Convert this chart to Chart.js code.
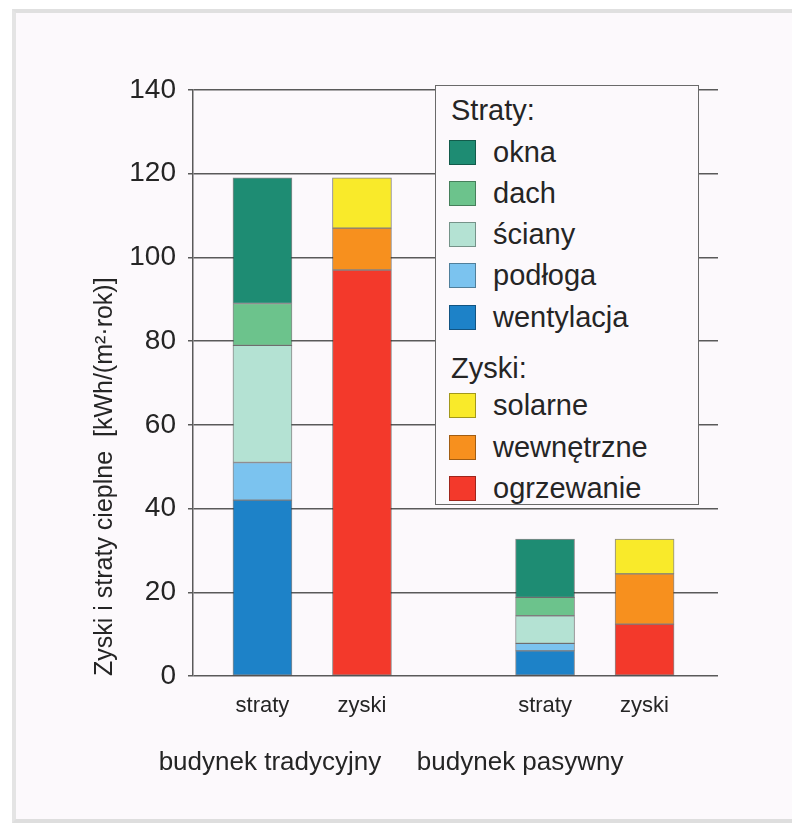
<!DOCTYPE html>
<html><head><meta charset="utf-8">
<script src="https://cdn.jsdelivr.net/npm/chart.js@4"></script>
<style>
html,body{margin:0;padding:0;background:#fff;}
#wrap{position:relative;width:792px;height:826px;overflow:hidden;background:#fff;}
#panel{position:absolute;left:12px;top:9px;width:800px;height:806px;background:#fcf9fc;border-top:4px solid #e0e0e0;border-left:4px solid #e4e4e4;border-bottom:4px solid #dedede;}
#cv{position:absolute;left:0;top:0;}
#legend{position:absolute;left:435px;top:85px;width:262px;height:418px;border:1.5px solid #6a6a6a;background:#fcf9fc;font-family:'Liberation Sans',Arial,sans-serif;color:#252525;}
.row{position:absolute;left:0;height:30px;display:flex;align-items:center;font-size:29px;white-space:nowrap;}
.hdr{left:15px;}
.sw{width:27px;height:25px;box-sizing:border-box;border:1px solid rgba(0,0,0,0.35);margin-left:13px;margin-right:17px;}
</style></head>
<body>
<div id="wrap">
  <div id="panel"></div>
  <canvas id="cv" width="792" height="826"></canvas>
  <div id="legend"></div>
</div>
<script>
// ---- data ----
const categories = ['straty', 'zyski', 'straty', 'zyski'];
const groups = ['budynek tradycyjny', 'budynek pasywny'];
const yTitle = 'Zyski i straty cieplne  [kWh/(m²·rok)]';
const lossHeader = 'Straty:';
const gainHeader = 'Zyski:';
// losses: [budynek tradycyjny, budynek pasywny]
const okna       = [30, 13.9];
const dach       = [10, 4.4];
const sciany     = [28, 6.6];
const podloga    = [9, 1.8];
const wentylacja = [42, 6.0];
// gains: [budynek tradycyjny, budynek pasywny]
const solarne    = [12, 8.3];
const wewnetrzne = [10, 12.0];
const ogrzewanie = [97, 12.4];

// ---- layout / style ----
const FONT = "'Liberation Sans', Arial, sans-serif";
const TXT = '#252525';
const GRID = '#5a5a5a';
const GAP = 0.84;
const xPos = categories.map((c, i) => i + (i >= 2 ? GAP : 0));
const groupLabelPos = [0.075, 2.59];
const X_MIN = -0.698, X_MAX = 4.578;

const lossSeries = [
  {label: 'wentylacja', values: wentylacja, color: '#1d82c8'},
  {label: 'podłoga',    values: podloga,    color: '#7bc3ef'},
  {label: 'ściany',     values: sciany,     color: '#b4e2d3'},
  {label: 'dach',       values: dach,       color: '#6cc38c'},
  {label: 'okna',       values: okna,       color: '#1e8c73'}
];
const gainSeries = [
  {label: 'ogrzewanie', values: ogrzewanie, color: '#f3392b'},
  {label: 'wewnętrzne', values: wewnetrzne, color: '#f7901e'},
  {label: 'solarne',    values: solarne,    color: '#f9ea2a'}
];

function makeDs(s, catIdx) {
  return {
    label: s.label,
    data: s.values.map((v, k) => ({x: xPos[catIdx[k]], y: v})),
    backgroundColor: s.color,
    borderColor: 'rgba(45,45,45,0.55)',
    borderWidth: 1,
    borderSkipped: false,
    barThickness: 59
  };
}
const datasets = [
  ...lossSeries.map(s => makeDs(s, [0, 2])),
  ...gainSeries.map(s => makeDs(s, [1, 3]))
];

new Chart(document.getElementById('cv'), {
  type: 'bar',
  data: {datasets},
  options: {
    responsive: false,
    animation: false,
    devicePixelRatio: 1,
    layout: {padding: {left: 90, top: 90, right: 74, bottom: 38}},
    plugins: {legend: {display: false}, tooltip: {enabled: false}},
    scales: {
      x: {
        type: 'linear', stacked: true, min: X_MIN, max: X_MAX, offset: false,
        grid: {display: false, drawTicks: false, offset: false},
        border: {display: false},
        afterBuildTicks: s => { s.ticks = xPos.map(v => ({value: v})); },
        ticks: {autoSkip: false, maxRotation: 0, padding: 17, color: TXT,
                font: {family: FONT, size: 22},
                callback: (v, i) => categories[i]},
        afterFit: s => { s.height = 42; }
      },
      x2: {
        type: 'linear', position: 'bottom', min: X_MIN, max: X_MAX, offset: false,
        grid: {display: false, drawTicks: false, offset: false},
        border: {display: false},
        afterBuildTicks: s => { s.ticks = groupLabelPos.map(v => ({value: v})); },
        ticks: {autoSkip: false, maxRotation: 0, padding: 29, color: TXT,
                font: {family: FONT, size: 26},
                callback: (v, i) => groups[i]},
        afterFit: s => { s.height = 70; }
      },
      y: {
        stacked: true, min: 0, max: 140,
        ticks: {stepSize: 20, padding: 12, color: TXT, font: {family: FONT, size: 28}},
        grid: {color: GRID, lineWidth: 1.5, tickLength: 5},
        border: {color: GRID, width: 1.5},
        title: {display: true, text: yTitle, align: 'start', color: TXT,
                font: {family: FONT, size: 25}, padding: 0},
        afterFit: s => { s.width = 103; }
      }
    }
  }
});

// ---- HTML legend built from the series ----
const legend = document.getElementById('legend');
function addRow(centerY, text, color) {
  const r = document.createElement('div');
  r.className = 'row' + (color ? '' : ' hdr');
  r.style.top = (centerY - 16.5) + 'px';
  if (color) {
    const sw = document.createElement('div');
    sw.className = 'sw';
    sw.style.background = color;
    r.appendChild(sw);
  }
  const t = document.createElement('span');
  t.textContent = text;
  r.appendChild(t);
  legend.appendChild(r);
}
addRow(26, lossHeader);
[...lossSeries].reverse().forEach((s, k) => addRow(67.5 + 41.3 * k, s.label, s.color));
addRow(284, gainHeader);
[...gainSeries].reverse().forEach((s, k) => addRow(321 + 41.5 * k, s.label, s.color));
</script>
</body></html>
